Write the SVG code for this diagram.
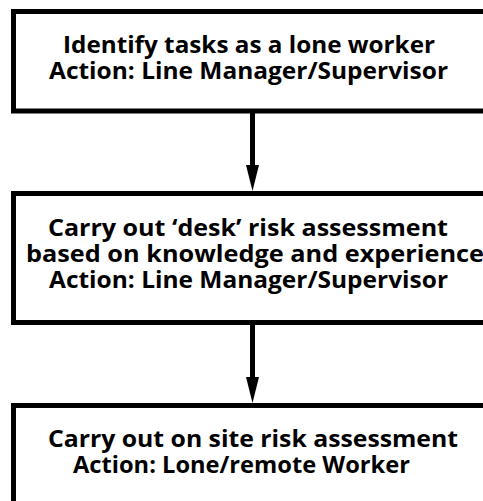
<svg xmlns="http://www.w3.org/2000/svg" width="483" height="501" viewBox="0 0 483 501">
<style>
.box{fill:#fff;stroke:#000;stroke-width:5}
.t{font-family:"Open Sans","Liberation Sans",sans-serif;font-weight:bold;font-size:24px;fill:#000;text-anchor:middle}
.c{stroke:#000;stroke-width:5;fill:none}
.h{fill:#000}
</style>
<rect width="483" height="501" fill="#fff"/>
<g id="n1">
<rect class="box" x="13.5" y="11.5" width="472" height="99.5"/>
<text class="t" x="249" y="53" textLength="372" lengthAdjust="spacingAndGlyphs">Identify tasks as a lone worker</text>
<text class="t" x="248.5" y="79" textLength="399" lengthAdjust="spacingAndGlyphs">Action: Line Manager/Supervisor</text>
</g>
<g id="n2">
<rect class="box" x="13.5" y="193.5" width="472" height="129"/>
<text class="t" x="248" y="236" textLength="400" lengthAdjust="spacingAndGlyphs">Carry out ‘desk’ risk assessment</text>
<text class="t" x="255" y="262" textLength="458" lengthAdjust="spacingAndGlyphs">based on knowledge and experience</text>
<text class="t" x="248.5" y="288" textLength="399" lengthAdjust="spacingAndGlyphs">Action: Line Manager/Supervisor</text>
</g>
<g id="n3">
<rect class="box" x="13.5" y="405.5" width="472" height="110"/>
<text class="t" x="253" y="447" textLength="410" lengthAdjust="spacingAndGlyphs">Carry out on site risk assessment</text>
<text class="t" x="241.5" y="473" textLength="337" lengthAdjust="spacingAndGlyphs">Action: Lone/remote Worker</text>
</g>
<g id="connectors">
<line class="c" x1="252.5" y1="113" x2="252.5" y2="170"/>
<polygon class="h" points="246,165 259,165 252.5,191"/>
<line class="c" x1="252.5" y1="325" x2="252.5" y2="382"/>
<polygon class="h" points="246,377 259,377 252.5,403"/>
</g>
</svg>
